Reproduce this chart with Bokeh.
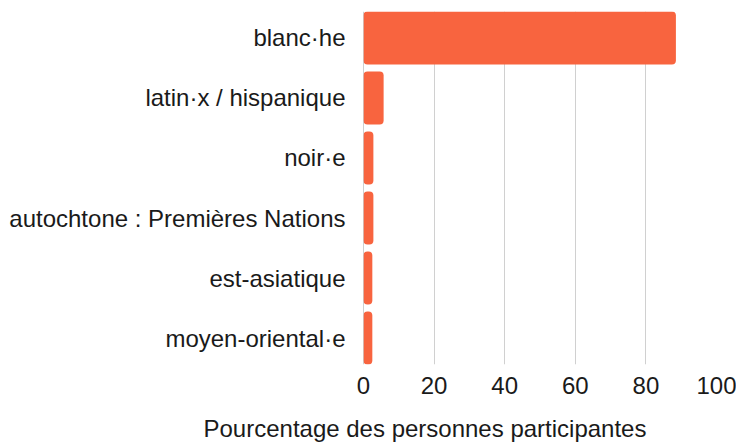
from bokeh.plotting import figure
from bokeh.models import Range1d, FixedTicker, Span, Title
from bokeh.embed import file_html
from bokeh.resources import INLINE

categories = ["blanc·he", "latin·x / hispanique", "noir·e",
              "autochtone : Premières Nations", "est-asiatique", "moyen-oriental·e"]
values = [88.5, 5.7, 2.8, 2.8, 2.5, 2.5]
x_ticks = [0, 20, 40, 60, 80, 100]
x_title = "Pourcentage des personnes participantes"

pos = list(range(len(categories)))
bar_h = 0.883
half = bar_h / 2
FONT = "Liberation Sans"
TXT = "#1a1a1a"

p = figure(width=736, height=443, output_backend="svg", toolbar_location=None,
           x_range=Range1d(0, 100), y_range=Range1d(len(categories) - 1 + half, -half),
           min_border_left=363, min_border_right=20, min_border_top=11, min_border_bottom=79)
p.outline_line_color = None
p.background_fill_color = "white"
p.border_fill_color = "white"

p.hbar(y=pos, right=values, left=0, height=bar_h, fill_color="#f8643f",
       line_color=None, border_radius=4)

p.xaxis.ticker = FixedTicker(ticks=x_ticks)
p.xaxis.axis_line_color = None
p.xaxis.major_tick_line_color = None
p.xaxis.minor_tick_line_color = None
p.xaxis.major_label_text_font = FONT
p.xaxis.major_label_text_font_size = "24px"
p.xaxis.major_label_text_color = TXT
p.xaxis.major_label_standoff = 6
# blank spacer label to push the title down
p.xaxis.axis_label = " "
p.xaxis.axis_label_text_font_size = "11px"
p.xaxis.axis_label_standoff = 0

p.yaxis.ticker = FixedTicker(ticks=pos)
p.yaxis.major_label_overrides = {i: c for i, c in zip(pos, categories)}
p.yaxis.axis_line_color = None
p.yaxis.major_tick_line_color = None
p.yaxis.minor_tick_line_color = None
p.yaxis.major_label_text_font = FONT
p.yaxis.major_label_text_font_size = "24px"
p.yaxis.major_label_text_color = TXT
p.yaxis.major_label_standoff = 12

p.xgrid.ticker = FixedTicker(ticks=x_ticks)
p.xgrid.grid_line_color = "#d0d0d0"
p.ygrid.grid_line_color = None
p.add_layout(Span(location=0, dimension="height", line_color="#a0a0a0", line_width=1, level="underlay"))

# axis title, placed like the original (left of the frame centre)
p.add_layout(Title(text=x_title, text_font=FONT, text_font_size="24px",
                   text_font_style="normal", text_color=TXT,
                   align="left", offset=-160, standoff=2), "below")

open("out.html", "w").write(file_html(p, INLINE))
